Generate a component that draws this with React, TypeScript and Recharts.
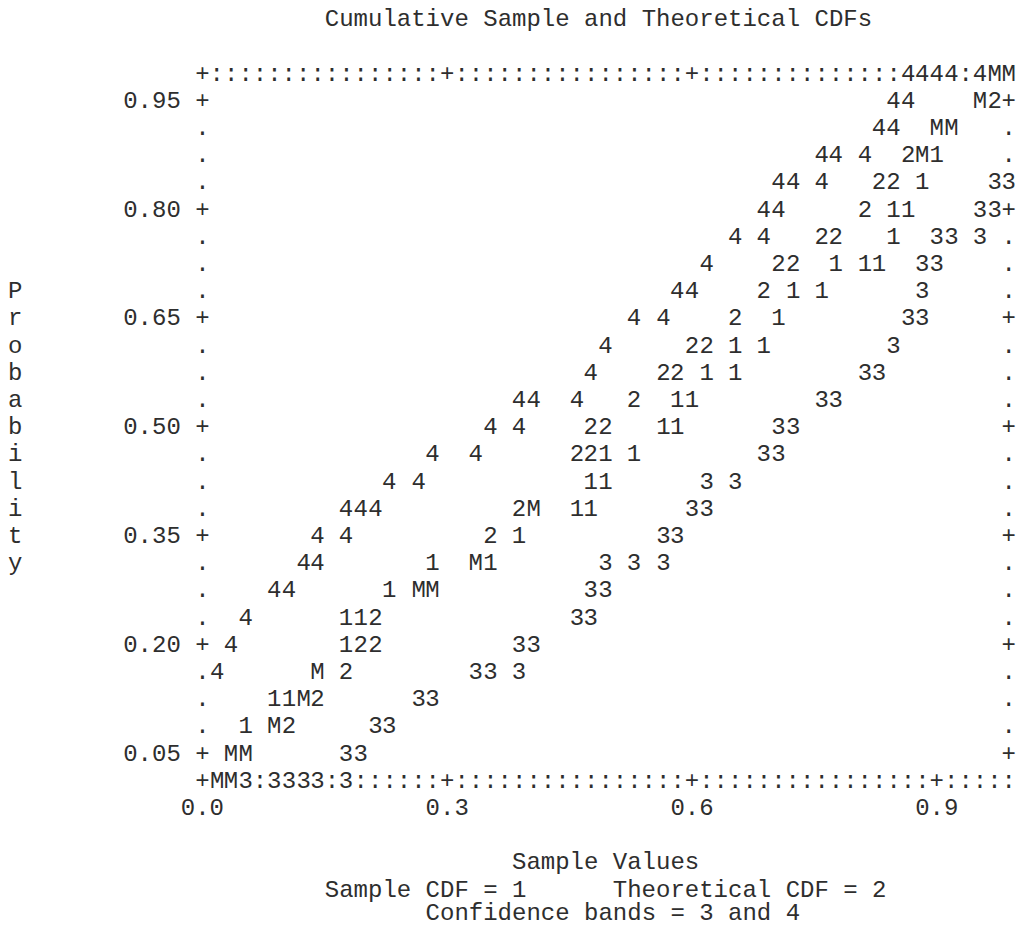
import React from 'react';
import { ScatterChart, Scatter, XAxis, YAxis } from 'recharts';

// ---------- text ----------
const chartTitle = 'Cumulative Sample and Theoretical CDFs';
const xAxisTitle = 'Sample Values';
const yAxisTitle = 'Probability';
const legendSample = 'Sample CDF = 1';
const legendTheoretical = 'Theoretical CDF = 2';
const legendBands = 'Confidence bands = 3 and 4';

const xTickLabels = ['0.0', '0.3', '0.6', '0.9'];
const yTickLabels = ['0.05', '0.20', '0.35', '0.50', '0.65', '0.80', '0.95'];

// ---------- data: [sample value, probability] ----------
const sampleCdf: Array<[number, number]> = [
  [0.9, 0.875],
  [0.882, 0.8375],
  [0.847, 0.8], [0.865, 0.8],
  [0.847, 0.7625],
  [0.776, 0.725], [0.812, 0.725], [0.829, 0.725],
  [0.724, 0.6875], [0.759, 0.6875],
  [0.706, 0.65],
  [0.653, 0.6125], [0.688, 0.6125],
  [0.618, 0.575], [0.653, 0.575],
  [0.582, 0.5375], [0.6, 0.5375],
  [0.565, 0.5], [0.582, 0.5],
  [0.494, 0.4625], [0.529, 0.4625],
  [0.476, 0.425], [0.494, 0.425],
  [0.459, 0.3875], [0.476, 0.3875],
  [0.388, 0.35],
  [0.282, 0.3125], [0.353, 0.3125],
  [0.229, 0.275],
  [0.176, 0.2375], [0.194, 0.2375],
  [0.176, 0.2],
  [0.088, 0.125], [0.106, 0.125],
  [0.053, 0.0875],
];

const theoreticalCdf: Array<[number, number]> = [
  [0.971, 0.95],
  [0.865, 0.875],
  [0.829, 0.8375], [0.847, 0.8375],
  [0.812, 0.8],
  [0.759, 0.7625], [0.776, 0.7625],
  [0.706, 0.725], [0.724, 0.725],
  [0.688, 0.6875],
  [0.653, 0.65],
  [0.6, 0.6125], [0.618, 0.6125],
  [0.565, 0.575], [0.582, 0.575],
  [0.529, 0.5375],
  [0.476, 0.5], [0.494, 0.5],
  [0.459, 0.4625], [0.476, 0.4625],
  [0.388, 0.3875],
  [0.353, 0.35],
  [0.212, 0.2375],
  [0.194, 0.2], [0.212, 0.2],
  [0.176, 0.1625],
  [0.141, 0.125],
  [0.106, 0.0875],
];

const lowerBand: Array<[number, number]> = [
  [0.971, 0.8375], [0.988, 0.8375],
  [0.953, 0.8], [0.971, 0.8],
  [0.9, 0.7625], [0.918, 0.7625], [0.953, 0.7625],
  [0.882, 0.725], [0.9, 0.725],
  [0.882, 0.6875],
  [0.865, 0.65], [0.882, 0.65],
  [0.847, 0.6125],
  [0.812, 0.575], [0.829, 0.575],
  [0.759, 0.5375], [0.776, 0.5375],
  [0.706, 0.5], [0.724, 0.5],
  [0.688, 0.4625], [0.706, 0.4625],
  [0.618, 0.425], [0.653, 0.425],
  [0.6, 0.3875], [0.618, 0.3875],
  [0.565, 0.35], [0.582, 0.35],
  [0.494, 0.3125], [0.529, 0.3125], [0.565, 0.3125],
  [0.476, 0.275], [0.494, 0.275],
  [0.459, 0.2375], [0.476, 0.2375],
  [0.388, 0.2], [0.406, 0.2],
  [0.335, 0.1625], [0.353, 0.1625], [0.388, 0.1625],
  [0.265, 0.125], [0.282, 0.125],
  [0.212, 0.0875], [0.229, 0.0875],
  [0.176, 0.05], [0.194, 0.05],
  [0.053, 0.0125], [0.088, 0.0125], [0.106, 0.0125], [0.124, 0.0125], [0.141, 0.0125], [0.176, 0.0125],
];

const upperBand: Array<[number, number]> = [
  [0.865, 0.9875], [0.882, 0.9875], [0.9, 0.9875], [0.918, 0.9875], [0.953, 0.9875],
  [0.847, 0.95], [0.865, 0.95],
  [0.829, 0.9125], [0.847, 0.9125],
  [0.759, 0.875], [0.776, 0.875], [0.812, 0.875],
  [0.706, 0.8375], [0.724, 0.8375], [0.759, 0.8375],
  [0.688, 0.8], [0.706, 0.8],
  [0.653, 0.7625], [0.688, 0.7625],
  [0.618, 0.725],
  [0.582, 0.6875], [0.6, 0.6875],
  [0.529, 0.65], [0.565, 0.65],
  [0.494, 0.6125],
  [0.476, 0.575],
  [0.388, 0.5375], [0.406, 0.5375], [0.459, 0.5375],
  [0.353, 0.5], [0.388, 0.5],
  [0.282, 0.4625], [0.335, 0.4625],
  [0.229, 0.425], [0.265, 0.425],
  [0.176, 0.3875], [0.194, 0.3875], [0.212, 0.3875],
  [0.141, 0.35], [0.176, 0.35],
  [0.124, 0.3125], [0.141, 0.3125],
  [0.088, 0.275], [0.106, 0.275],
  [0.053, 0.2375],
  [0.035, 0.2],
  [0.018, 0.1625],
];

// points where several series fall in the same print cell
const multiplePoints: Array<[number, number]> = [
  [0.971, 0.9875], [0.988, 0.9875],
  [0.953, 0.95],
  [0.9, 0.9125], [0.918, 0.9125],
  [0.882, 0.875],
  [0.406, 0.3875],
  [0.335, 0.3125],
  [0.265, 0.275], [0.282, 0.275],
  [0.141, 0.1625],
  [0.124, 0.125],
  [0.088, 0.0875],
  [0.035, 0.05], [0.053, 0.05],
  [0.018, 0.0125], [0.035, 0.0125],
];

// ---------- layout / style ----------
const W = 1021;
const H = 927;
const FONT = "'Liberation Mono', 'Courier New', monospace";
const FS = 24;
const CW = 14.4; // character cell width
const LH = 27.2; // line height
const BASE = 7.5; // baseline offset from the line centre
const INK = '#2e2e2e';
const PLOT_TOP = 73;
const PLOT_BOTTOM = 780.2;
const PLOT_H = PLOT_BOTTOM - PLOT_TOP;
const colLeft = (c: number) => 8 + c * CW;
const lineCenter = (l: number) => 18.6 + l * LH;

// axis scales (one print column / one print line)
const X_STEP = 0.3 / 17;
const X_MAX = 56 * X_STEP;
const Y_STEP = 0.0375;
const Y_MIN = 0.0125;
const Y_MAX = 0.9875;
const xTicks = Array.from({ length: 57 }, (_, i) => i * X_STEP);
const yTicks = Array.from({ length: 25 }, (_, i) => 0.05 + i * Y_STEP);

const toPoints = (arr: Array<[number, number]>) => arr.map(([x, y]) => ({ x, y }));
const allPoints = [sampleCdf, theoreticalCdf, lowerBand, upperBand, multiplePoints].flat();
const isOccupied = (x: number, y: number) =>
  allPoints.some(([px, py]) => Math.abs(px - x) < X_STEP / 2 && Math.abs(py - y) < Y_STEP / 2);

const Glyph = ({ x, y, ch, anchor = 'middle' }: any) => (
  <text x={x} y={y + BASE} textAnchor={anchor} fontFamily={FONT} fontSize={FS} fill={INK}>
    {ch}
  </text>
);

const glyphShape = (ch: string) => (props: any) => {
  if (props.cx == null || props.cy == null) return <g />;
  return <Glyph x={props.cx} y={props.cy} ch={ch} />;
};

// bottom axis draws both frame rows (top and bottom) of the print plot
const BottomTick = (props: any) => {
  const { x, y, payload } = props;
  const i = Math.round(payload.value / X_STEP);
  const major = i % 17 === 0;
  const ch = major ? '+' : ':';
  return (
    <g>
      {!isOccupied(payload.value, Y_MAX) && <Glyph x={x} y={y - PLOT_H} ch={ch} />}
      {!isOccupied(payload.value, Y_MIN) && <Glyph x={x} y={y} ch={ch} />}
      {major && <Glyph x={x} y={y + LH} ch={xTickLabels[i / 17]} />}
    </g>
  );
};

const LeftTick = (props: any) => {
  const { x, y, payload } = props;
  const i = Math.round((payload.value - 0.05) / Y_STEP);
  const major = i % 4 === 0;
  return (
    <g>
      {!isOccupied(0, payload.value) && <Glyph x={x} y={y} ch={major ? '+' : '.'} />}
      {major && <Glyph x={x - 1.5 * CW} y={y} ch={yTickLabels[i / 4]} anchor="end" />}
    </g>
  );
};

const RightTick = (props: any) => {
  const { x, y, payload } = props;
  const i = Math.round((payload.value - 0.05) / Y_STEP);
  const major = i % 4 === 0;
  if (isOccupied(X_MAX, payload.value)) return <g />;
  return <Glyph x={x} y={y} ch={major ? '+' : '.'} />;
};

const TextAt = ({ col, line, dy = 0, children }: any) => (
  <text x={colLeft(col)} y={lineCenter(line) + BASE + dy} fontFamily={FONT} fontSize={FS} fill={INK}>
    {children}
  </text>
);

export default function App() {
  return (
    <div style={{ position: 'absolute', left: 0, top: 0, width: W, height: H, background: '#fff' }}>
      <ScatterChart width={W} height={H} margin={{ top: PLOT_TOP, right: 0, bottom: 0, left: 0 }}>
        <XAxis
          xAxisId="bottom"
          type="number"
          dataKey="x"
          domain={[0, X_MAX]}
          ticks={xTicks}
          interval={0}
          height={H - PLOT_BOTTOM}
          tickSize={0}
          tickMargin={0}
          axisLine={false}
          tickLine={false}
          tick={(p: any) => <BottomTick {...p} />}
        />
        <XAxis xAxisId="top" orientation="top" type="number" dataKey="x" domain={[0, X_MAX]} height={0} hide />
        <YAxis
          yAxisId="left"
          type="number"
          dataKey="y"
          domain={[Y_MIN, Y_MAX]}
          ticks={yTicks}
          interval={0}
          width={202.4}
          tickSize={0}
          tickMargin={0}
          axisLine={false}
          tickLine={false}
          tick={(p: any) => <LeftTick {...p} />}
        />
        <YAxis
          yAxisId="right"
          orientation="right"
          type="number"
          dataKey="y"
          domain={[Y_MIN, Y_MAX]}
          ticks={yTicks}
          interval={0}
          width={12.2}
          tickSize={0}
          tickMargin={0}
          axisLine={false}
          tickLine={false}
          tick={(p: any) => <RightTick {...p} />}
        />
        <Scatter name="Sample CDF" data={toPoints(sampleCdf)} xAxisId="bottom" yAxisId="left" shape={glyphShape('1')} isAnimationActive={false} />
        <Scatter name="Theoretical CDF" data={toPoints(theoreticalCdf)} xAxisId="bottom" yAxisId="left" shape={glyphShape('2')} isAnimationActive={false} />
        <Scatter name="Lower band" data={toPoints(lowerBand)} xAxisId="bottom" yAxisId="left" shape={glyphShape('3')} isAnimationActive={false} />
        <Scatter name="Upper band" data={toPoints(upperBand)} xAxisId="top" yAxisId="right" shape={glyphShape('4')} isAnimationActive={false} />
        <Scatter name="Multiple" data={toPoints(multiplePoints)} xAxisId="top" yAxisId="right" shape={glyphShape('M')} isAnimationActive={false} />
      </ScatterChart>
      <svg width={W} height={H} style={{ position: 'absolute', left: 0, top: 0, pointerEvents: 'none' }}>
        <TextAt col={22} line={0}>{chartTitle}</TextAt>
        {yAxisTitle.split('').map((ch, i) => (
          <TextAt key={i} col={0} line={10 + i}>{ch}</TextAt>
        ))}
        <TextAt col={35} line={31}>{xAxisTitle}</TextAt>
        <TextAt col={22} line={32}>{legendSample}</TextAt>
        <TextAt col={42} line={32}>{legendTheoretical}</TextAt>
        <TextAt col={29} line={33} dy={-4}>{legendBands}</TextAt>
      </svg>
    </div>
  );
}
